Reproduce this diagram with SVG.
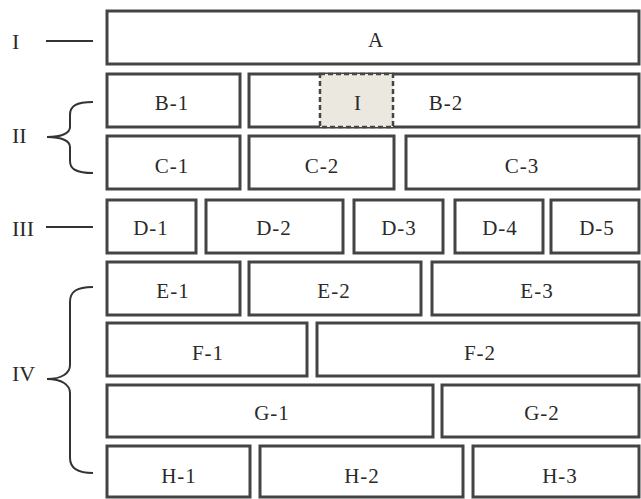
<svg xmlns="http://www.w3.org/2000/svg" width="641" height="499" viewBox="0 0 641 499">
<style>
.box{fill:#fff;stroke:#444;stroke-width:3}
.dash{fill:#ebe8df;stroke:#444;stroke-width:2.5;stroke-dasharray:5,3}
.t{font-family:"Liberation Serif","Times New Roman",serif;font-size:21px;fill:#2a2a2a;text-anchor:middle;letter-spacing:1px}
.lab{font-family:"Liberation Serif","Times New Roman",serif;font-size:22px;fill:#2a2a2a}
.ln{fill:none;stroke:#333;stroke-width:2}
</style>
<rect width="641" height="499" fill="#fff"/>
<g id="connectors">
<line class="ln" x1="46" y1="41" x2="93" y2="41"/>
<line class="ln" x1="46" y1="227" x2="93" y2="227"/>
<path class="ln" d="M93,102 C76,102 70,106 70,115 L70,127 C70,133 62,137 47,137 C62,137 70,141 70,147 L70,161 C70,169 76,173 93,173"/>
<path class="ln" d="M93,287 C76,287 70,292 70,302 L70,365 C70,373 62,379 47,379 C62,379 70,385 70,393 L70,458 C70,467 76,473 93,473"/>
</g>
<g id="labels">
<text class="lab" x="12" y="49">I</text>
<text class="lab" x="12" y="143">II</text>
<text class="lab" x="12" y="236">III</text>
<text class="lab" x="12" y="381">IV</text>
</g>
<g id="A"><rect class="box" x="107" y="11" width="532" height="53"/><text class="t" x="376" y="47">A</text></g>
<g id="B-1"><rect class="box" x="107" y="74" width="133" height="53"/><text class="t" x="172" y="110">B-1</text></g>
<g id="B-2"><rect class="box" x="249" y="74" width="390" height="53"/><text class="t" x="446" y="110">B-2</text></g>
<g id="I"><rect class="dash" x="320" y="74" width="73" height="53"/><text class="t" x="358" y="110">I</text></g>
<g id="C-1"><rect class="box" x="107" y="136" width="133" height="53"/><text class="t" x="172" y="173">C-1</text></g>
<g id="C-2"><rect class="box" x="249" y="136" width="145" height="53"/><text class="t" x="322" y="173">C-2</text></g>
<g id="C-3"><rect class="box" x="406" y="136" width="233" height="53"/><text class="t" x="522" y="173">C-3</text></g>
<g id="D-1"><rect class="box" x="107" y="200" width="89" height="53"/><text class="t" x="151" y="235">D-1</text></g>
<g id="D-2"><rect class="box" x="206" y="200" width="137" height="53"/><text class="t" x="274" y="235">D-2</text></g>
<g id="D-3"><rect class="box" x="354" y="200" width="89" height="53"/><text class="t" x="399" y="235">D-3</text></g>
<g id="D-4"><rect class="box" x="455" y="200" width="88" height="53"/><text class="t" x="500" y="235">D-4</text></g>
<g id="D-5"><rect class="box" x="551" y="200" width="88" height="53"/><text class="t" x="597" y="235">D-5</text></g>
<g id="E-1"><rect class="box" x="107" y="262" width="133" height="53"/><text class="t" x="173" y="298">E-1</text></g>
<g id="E-2"><rect class="box" x="249" y="262" width="172" height="53"/><text class="t" x="334" y="298">E-2</text></g>
<g id="E-3"><rect class="box" x="432" y="262" width="207" height="53"/><text class="t" x="537" y="298">E-3</text></g>
<g id="F-1"><rect class="box" x="107" y="323" width="200" height="53"/><text class="t" x="208" y="360">F-1</text></g>
<g id="F-2"><rect class="box" x="317" y="323" width="322" height="53"/><text class="t" x="480" y="360">F-2</text></g>
<g id="G-1"><rect class="box" x="107" y="385" width="326" height="52"/><text class="t" x="272" y="420">G-1</text></g>
<g id="G-2"><rect class="box" x="442" y="385" width="197" height="52"/><text class="t" x="542" y="420">G-2</text></g>
<g id="H-1"><rect class="box" x="107" y="446" width="143" height="51"/><text class="t" x="179" y="483">H-1</text></g>
<g id="H-2"><rect class="box" x="260" y="446" width="203" height="51"/><text class="t" x="362" y="483">H-2</text></g>
<g id="H-3"><rect class="box" x="473" y="446" width="166" height="51"/><text class="t" x="560" y="483">H-3</text></g>
</svg>
